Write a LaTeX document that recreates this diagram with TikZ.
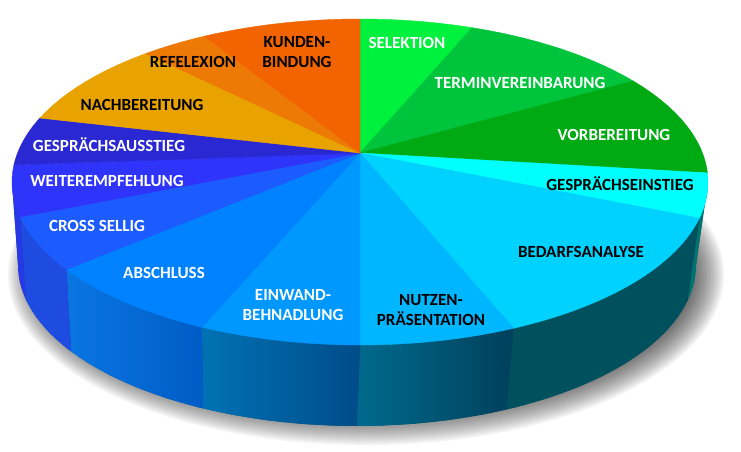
\documentclass[tikz,border=0pt]{standalone}
\usepackage{fontspec}
\setmainfont{Carlito}
\definecolor{cSel}{HTML}{00F03E}
\definecolor{cTer}{HTML}{00C43C}
\definecolor{cVor}{HTML}{00AA12}
\definecolor{cEin}{HTML}{00FFFF}
\definecolor{cBed}{HTML}{00D2FF}
\definecolor{cNut}{HTML}{00B6FF}
\definecolor{cEnw}{HTML}{0098FF}
\definecolor{cAbs}{HTML}{0082FF}
\definecolor{cCro}{HTML}{1C5CFF}
\definecolor{cWei}{HTML}{2E34FA}
\definecolor{cAus}{HTML}{2A28D2}
\definecolor{cNac}{HTML}{E8A300}
\definecolor{cRef}{HTML}{EE7A06}
\definecolor{cKun}{HTML}{F26400}
\definecolor{sWei}{HTML}{2838E6}
\definecolor{sCro}{HTML}{1E4CE0}
\definecolor{sAbsL}{HTML}{0A76E2}
\definecolor{sAbsR}{HTML}{005CC6}
\definecolor{sEnwL}{HTML}{0072B4}
\definecolor{sEnwR}{HTML}{004C88}
\definecolor{sNutL}{HTML}{006A8C}
\definecolor{sNutR}{HTML}{00405C}
\definecolor{sBed}{HTML}{00505E}
\definecolor{sEin}{HTML}{007272}
\newcommand\topslice[3]{%
  \path[fill=#1,draw=#1,line width=0.4pt] (360,153) -- plot[domain=#2:#3,samples=40] ({360+348*cos(\x)},{182+163*sin(\x)}) -- cycle;}
\newcommand\sidepiece[3]{%
  \path[#1] plot[domain=#2:#3,samples=30] ({360+348*cos(\x)},{182+163*sin(\x)}) -- plot[domain=#3:#2,samples=30] ({357+339*cos(\x)},{265+161*sin(\x)}) -- cycle;}
\begin{document}
\begin{tikzpicture}[x=1pt,y=-1pt,
  lbl/.style={font=\fontsize{17}{20}\selectfont\bfseries,align=center,inner sep=0pt},
  one/.style={text height=11pt,text depth=0pt},
  wlbl/.style={lbl,text=white},
  blbl/.style={lbl,text=black}]
\useasboundingbox (0,0) rectangle (741,452);
\fill[white] (0,0) rectangle (741,452);
% soft shadow
\foreach \i in {0,...,13} {
  \fill[black,opacity=0.05] (366,275) ellipse [x radius={358-2.2*\i}, y radius={170-2.2*\i}];
}
% side of the pie
\sidepiece{fill=sBed}{0}{180}
\sidepiece{fill=sEin}{0}{12.8}
\sidepiece{fill=sBed}{12.8}{63.8}
\sidepiece{left color=sNutL,right color=sNutR}{63.8}{90}
\sidepiece{left color=sEnwL,right color=sEnwR}{90}{117}
\sidepiece{left color=sAbsL,right color=sAbsR}{117}{147.5}
\sidepiece{fill=sCro}{147.5}{167.6}
\sidepiece{fill=sWei}{167.6}{180}
% top face
\topslice{cSel}{-90}{-71.2}
\topslice{cTer}{-71.2}{-38.3}
\topslice{cVor}{-38.3}{-3.2}
\topslice{cEin}{-3.2}{12.8}
\topslice{cBed}{12.8}{63.8}
\topslice{cNut}{63.8}{90}
\topslice{cEnw}{90}{117}
\topslice{cAbs}{117}{147.5}
\topslice{cCro}{147.5}{167.6}
\topslice{cWei}{167.6}{186}
\topslice{cAus}{186}{203.1}
\topslice{cNac}{203.1}{232}
\topslice{cRef}{232}{243.4}
\topslice{cKun}{243.4}{270}
% labels
\node[wlbl,one] (selektion) at (407,43) {SELEKTION};
\node[wlbl,one] (termin) at (520,83) {TERMINVEREINBARUNG};
\node[wlbl,one] (vorbereitung) at (614,135) {VORBEREITUNG};
\node[blbl,one] (einstieg) at (620,185) {GESPRÄCHSEINSTIEG};
\node[blbl,one] (bedarf) at (581,252) {BEDARFSANALYSE};
\node[blbl] (nutzen) at (431,310.5) {NUTZEN-\\PRÄSENTATION};
\node[wlbl] (einwand) at (293,305) {EINWAND-\\BEHNADLUNG};
\node[wlbl,one] (abschluss) at (164,273) {ABSCHLUSS};
\node[wlbl,one] (cross) at (97,226) {CROSS SELLIG};
\node[wlbl,one] (weiter) at (107,181) {WEITEREMPFEHLUNG};
\node[wlbl,one] (ausstieg) at (109,146) {GESPRÄCHSAUSSTIEG};
\node[blbl,one] (nachbereitung) at (142,105) {NACHBEREITUNG};
\node[blbl,one] (refelexion) at (193,62) {REFELEXION};
\node[blbl] (kunden) at (297,52) {KUNDEN-\\BINDUNG};
\end{tikzpicture}
\end{document}
